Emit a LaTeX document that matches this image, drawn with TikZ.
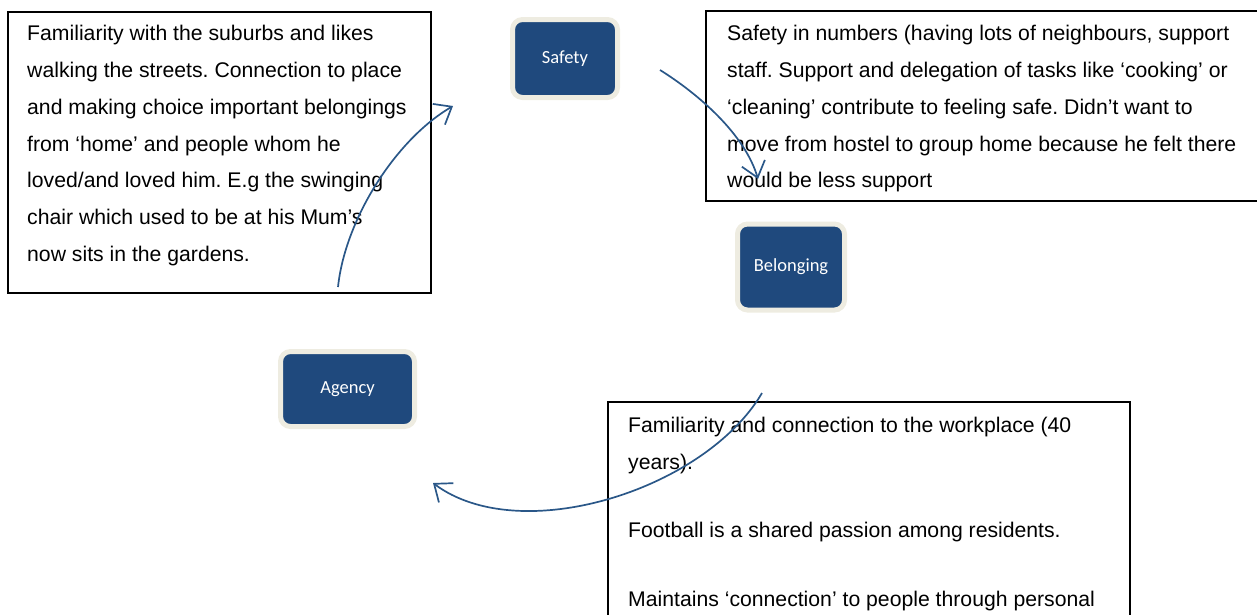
\documentclass[tikz,border=0pt]{standalone}
\usepackage{fontspec}
\setmainfont{Liberation Sans}
\newfontfamily\labelfont{Carlito}
\usetikzlibrary{arrows.meta}
\definecolor{nodeblue}{HTML}{1F497D}
\definecolor{nodeedge}{HTML}{EEECE1}
\definecolor{arrowblue}{HTML}{2A5788}
\frenchspacing
\newcommand{\notetext}[2]{\parbox[t]{#1}{\fontsize{21.2}{36.8}\selectfont\raggedright #2}}

\begin{document}
\begin{tikzpicture}[x=1pt,y=-1pt,
  theme/.style={rectangle, rounded corners=10pt, fill=nodeblue, draw=nodeedge,
    line width=5pt, text=white, inner sep=0pt,
    font=\labelfont\fontsize{18.5}{22}\selectfont},
  frame/.style={rectangle, draw=black, line width=1.6pt, inner sep=0pt, anchor=north west},
  body/.style={inner sep=0pt, anchor=base west},
  link/.style={draw=arrowblue, line width=1.7pt,
    -{Straight Barb[length=15pt,width=24pt]}}
]
\useasboundingbox (0,0) rectangle (1257,614);
\clip (0,0) rectangle (1257,614);

% note frames
\node[frame, minimum width=423pt, minimum height=281pt] (lframe) at (7,11) {};
\node[frame, minimum width=600pt, minimum height=190pt] (rframe) at (705,10) {};
\node[frame, minimum width=522pt, minimum height=300pt] (bframe) at (607,401) {};

% note texts
\node[body] (ltext) at (27,40.7) {\notetext{400pt}{%
Familiarity with the suburbs and likes\\
walking the streets. Connection to place\\
and making choice important belongings\\
from ‘home’ and people whom he\\
loved/and loved him. E.g the swinging\\
chair which used to be at his Mum’s\\
now sits in the gardens.}};

\node[body] (rtext) at (727,40.7) {\notetext{520pt}{%
Safety in numbers (having lots of neighbours, support\\
staff. Support and delegation of tasks like ‘cooking’ or\\
‘cleaning’ contribute to feeling safe. Didn’t want to\\
move from hostel to group home because he felt there\\
would be less support}};

\node[body] (btext) at (628,432.3) {\notetext{500pt}{%
Familiarity and connection to the workplace (40\\
years).\\[31.9pt]
Football is a shared passion among residents.\\[31.8pt]
Maintains ‘connection’ to people through personal}};

% curved arrows
\coordinate (a1s) at (338,287);
\coordinate (a1e) at (453,106);
\draw[link] (a1s) .. controls (345,220) and (395,140) .. (a1e);

\coordinate (a2s) at (660,70);
\coordinate (a2e) at (758,179);
\draw[link] (a2s) .. controls (700,95) and (745,135) .. (a2e);

\coordinate (a3s) at (762,393);
\coordinate (a3e) at (433,483);
\draw[link] (a3s) .. controls (705,490) and (520,548) .. (a3e);

% theme nodes
\node[theme, minimum width=105pt, minimum height=78pt] (safety) at (565,58.5) {Safety};
\node[theme, minimum width=107pt, minimum height=86pt] (belonging) at (791,267) {Belonging};
\node[theme, minimum width=134pt, minimum height=75pt] (agency) at (347.5,389) {Agency};
\end{tikzpicture}
\end{document}
